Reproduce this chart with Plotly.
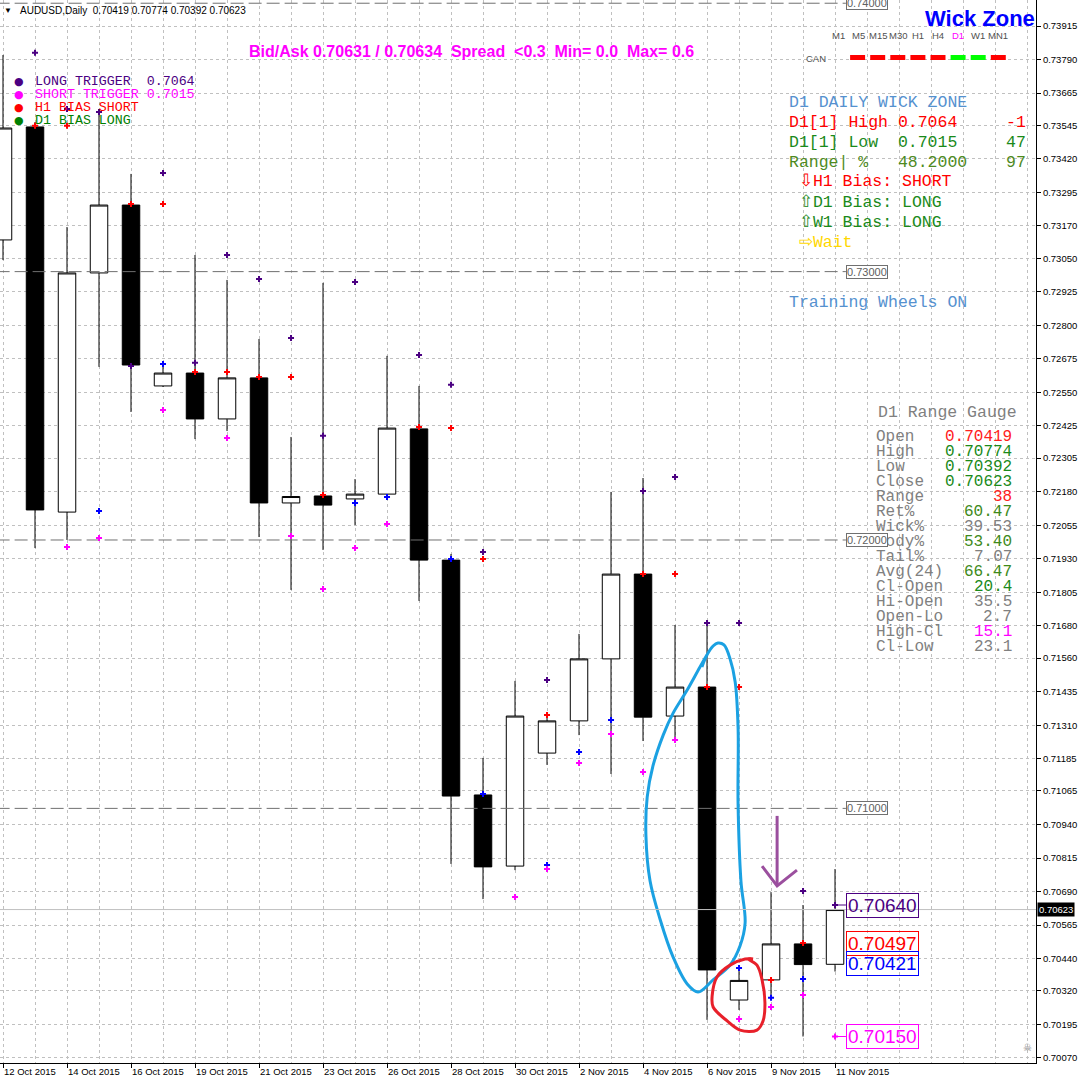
import plotly.graph_objects as go

# ---- data (bar 0 = 12 Oct 2015, Sunday bars included) ----
dates = ["12 Oct 2015", "13 Oct 2015", "14 Oct 2015", "15 Oct 2015", "16 Oct 2015", "18 Oct 2015",
         "19 Oct 2015", "20 Oct 2015", "21 Oct 2015", "22 Oct 2015", "23 Oct 2015", "25 Oct 2015",
         "26 Oct 2015", "27 Oct 2015", "28 Oct 2015", "29 Oct 2015", "30 Oct 2015", "1 Nov 2015",
         "2 Nov 2015", "3 Nov 2015", "4 Nov 2015", "5 Nov 2015", "6 Nov 2015", "8 Nov 2015",
         "9 Nov 2015", "10 Nov 2015", "11 Nov 2015"]
opens = [0.73118, 0.73539, 0.72104, 0.72995, 0.73248, 0.72574, 0.72622, 0.72451, 0.72604, 0.72138,
         0.72164, 0.72153, 0.72171, 0.72414, 0.71925, 0.71050, 0.70785, 0.71206, 0.71326, 0.71557,
         0.71873, 0.71344, 0.71452, 0.70286, 0.70361, 0.70495, 0.70419]
highs = [0.73807, 0.73557, 0.73166, 0.73595, 0.73364, 0.72656, 0.73062, 0.72969, 0.72749, 0.72384,
         0.72958, 0.72227, 0.72686, 0.72574, 0.71948, 0.71188, 0.71475, 0.71348, 0.71650, 0.72179,
         0.72231, 0.71683, 0.71691, 0.70394, 0.70688, 0.70640, 0.70774]
lows = [0.73043, 0.71970, 0.72000, 0.72645, 0.72477, 0.72570, 0.72376, 0.72406, 0.72011, 0.71814,
        0.71963, 0.72056, 0.72160, 0.71773, 0.70793, 0.70662, 0.70770, 0.71162, 0.71273, 0.71128,
        0.71251, 0.71251, 0.70212, 0.70249, 0.70301, 0.70150, 0.70392]
closes = [0.73535, 0.72112, 0.72995, 0.73248, 0.72652, 0.72622, 0.72451, 0.72604, 0.72138, 0.72162,
          0.72130, 0.72171, 0.72417, 0.71925, 0.71046, 0.70782, 0.71344, 0.71326, 0.71557, 0.71873,
          0.71340, 0.71452, 0.70398, 0.70359, 0.70495, 0.70418, 0.70623]

# indicator dots
long_x = [1, 2, 3, 4, 5, 6, 7, 8, 9, 10, 11, 13, 14, 15, 17, 20, 21, 22, 23, 25, 26]
long_y = [0.73815, 0.73606, 0.73595, 0.72648, 0.73367, 0.72660, 0.73062, 0.72972, 0.72753, 0.72388,
          0.72961, 0.72689, 0.72578, 0.71955, 0.71478, 0.72183, 0.72235, 0.71691, 0.71691, 0.70692, 0.70640]
red_x = [1, 2, 4, 5, 6, 7, 8, 9, 10, 13, 14, 15, 17, 20, 21, 22, 23, 24, 25]
red_y = [0.73543, 0.73543, 0.73252, 0.73252, 0.72626, 0.72626, 0.72607, 0.72607, 0.72168, 0.72421,
         0.72417, 0.71929, 0.71348, 0.71873, 0.71873, 0.71452, 0.71452, 0.70361, 0.70498]
blue_x = [3, 5, 11, 12, 14, 15, 17, 18, 19, 23, 24, 25]
blue_y = [0.72108, 0.72656, 0.72138, 0.72160, 0.71929, 0.71054, 0.70789, 0.71210, 0.71329, 0.70405,
          0.70294, 0.70364]
short_x = [2, 3, 5, 7, 9, 10, 11, 12, 16, 17, 18, 19, 20, 21, 23, 24, 25, 26]
short_y = [0.71974, 0.72007, 0.72484, 0.72380, 0.72015, 0.71817, 0.71970, 0.72060, 0.70670, 0.70774,
           0.71169, 0.71277, 0.71136, 0.71255, 0.70215, 0.70260, 0.70305, 0.70150]

# price tags on the right of the last bar
tag_prices = [0.70640, 0.70497, 0.70421, 0.70150]
tag_colors = ["#4B0082", "#FF0000", "#0000FF", "#FF00FF"]
levels = [0.74, 0.73, 0.72, 0.71]
bid = 0.70623

yticks = [0.73915, 0.73790, 0.73665, 0.73545, 0.73420, 0.73295, 0.73170, 0.73050, 0.72925, 0.72800,
          0.72675, 0.72550, 0.72425, 0.72305, 0.72180, 0.72055, 0.71930, 0.71805, 0.71680, 0.71560,
          0.71435, 0.71310, 0.71185, 0.71065, 0.70940, 0.70815, 0.70690, 0.70565, 0.70440, 0.70320,
          0.70195, 0.70070]

# hand drawn marks (bar index, price)
loop_x = [21.84, 22.0, 22.19, 22.34, 22.53, 22.72, 22.88, 22.97, 22.97, 23.06, 23.19, 23.03, 22.72,
          22.19, 21.72, 21.38, 20.94, 20.53, 20.22, 20.09, 20.13, 20.31, 20.63, 20.94, 21.38, 21.78, 22.0]
loop_y = [0.71527, 0.71572, 0.71605, 0.71616, 0.71609, 0.71557, 0.71471, 0.71300, 0.71016, 0.70729,
          0.70573, 0.70487, 0.70416, 0.70361, 0.70316, 0.70346, 0.70446, 0.70588, 0.70729, 0.70901,
          0.71042, 0.71158, 0.71273, 0.71355, 0.71441, 0.71527, 0.71572]
circle_x = [23.44, 23.19, 22.72, 22.31, 22.16, 22.19, 22.63, 23.03, 23.56, 23.75, 23.81, 23.72, 23.56, 23.28, 23.44]
circle_y = [0.70439, 0.70439, 0.70416, 0.70372, 0.70301, 0.70260, 0.70208, 0.70174, 0.70174, 0.70208,
            0.70275, 0.70361, 0.70416, 0.70439, 0.70439]
arrow_x = [24.19, 24.19, None, 23.72, 24.19, 24.81]
arrow_y = [0.70972, 0.70715, None, 0.70785, 0.70711, 0.70770]

# side panels
wick_rows = [("D1 DAILY WICK ZONE", "#5591CF", ""), ("D1[1] High 0.7064", "#FF0000", "-1"),
             ("D1[1] Low  0.7015", "#1A8A1A", "47"), ("Range| %   48.2000", "#4E8A1E", "97"),
             (" ⇩H1 Bias: SHORT", "#FF0000", ""), (" ⇧D1 Bias: LONG", "#1A8A1A", ""),
             (" ⇧W1 Bias: LONG", "#1A8A1A", ""), (" ⇨Wait", "#FFD700", "")]
gauge_labels = ["Open", "High", "Low", "Close", "Range", "Ret%", "Wick%", "Body%", "Tail%", "Avg(24)",
                "Cl-Open", "Hi-Open", "Open-Lo", "High-Cl", "Cl-Low"]
gauge_values = ["0.70419", "0.70774", "0.70392", "0.70623", "38", "60.47", "39.53", "53.40", "7.07",
                "66.47", "20.4", "35.5", "2.7", "15.1", "23.1"]
gauge_colors = ["#FF2020", "#1A8A1A", "#1A8A1A", "#1A8A1A", "#FF2020", "#3E8A1A", "#808080", "#3E8A1A",
                "#808080", "#3E8A1A", "#1A8A1A", "#808080", "#808080", "#FF00FF", "#808080"]
tf_labels = ["M1", "M5", "M15", "M30", "H1", "H4", "D1", "W1", "MN1"]
can_colors = ["#FFFF00", "#FF0000", "#FF0000", "#FF0000", "#FF0000", "#FF0000", "#00FF00", "#00FF00", "#FF0000"]
legend_items = [("LONG TRIGGER  0.7064", "#4B0082"), ("SHORT TRIGGER 0.7015", "#FF00FF"),
                ("H1 BIAS SHORT", "#FF0000"), ("D1 BIAS LONG", "#008000")]

W, H = 1036, 1063  # plot area in pixels


def px(x):
    return x / W


def py(y):
    return 1 - y / H


NB = "\u00a0"
MONO = "Liberation Mono"
SANS = "Liberation Sans"

fig = go.Figure()
idx = list(range(len(dates)))

fig.add_trace(go.Candlestick(
    x=idx, open=opens, high=highs, low=lows, close=closes,
    increasing=dict(line=dict(color="black", width=1), fillcolor="white"),
    decreasing=dict(line=dict(color="black", width=1), fillcolor="black"),
    whiskerwidth=0, hoverinfo="skip", showlegend=False))

# level lines (end where their label box starts)
for lv in levels:
    fig.add_trace(go.Scatter(x=[-0.2, 26.34], y=[lv, lv], mode="lines",
                             line=dict(color="#707070", width=1, dash="13px,5px"),
                             hoverinfo="skip", showlegend=False))

fig.add_hline(y=bid, line=dict(color="#C0C0C0", width=1))

for xs, ys, col in [(long_x, long_y, "#4B0082"), (red_x, red_y, "#FF0000"),
                    (blue_x, blue_y, "#0000FF"), (short_x, short_y, "#FF00FF")]:
    fig.add_trace(go.Scatter(x=xs, y=ys, mode="markers",
                             marker=dict(symbol="cross", size=5, color=col, line=dict(width=0)),
                             hoverinfo="skip", showlegend=False))

# connector lines to the price tags
for p, c in [(tag_prices[0], tag_colors[0]), (tag_prices[3], tag_colors[3])]:
    fig.add_trace(go.Scatter(x=[26, 26.34], y=[p, p], mode="lines", line=dict(color=c, width=1),
                             hoverinfo="skip", showlegend=False))

# hand drawn marks
fig.add_trace(go.Scatter(x=loop_x, y=loop_y, mode="lines", line=dict(color="#1BA1E2", width=3, shape="spline"),
                         hoverinfo="skip", showlegend=False))
fig.add_trace(go.Scatter(x=circle_x, y=circle_y, mode="lines", line=dict(color="#E8202A", width=3, shape="spline"),
                         hoverinfo="skip", showlegend=False))
fig.add_trace(go.Scatter(x=arrow_x, y=arrow_y, mode="lines", line=dict(color="#9B4F9E", width=3),
                         hoverinfo="skip", showlegend=False, connectgaps=False))

ann = []

# header
ann.append(dict(x=px(8), y=py(10), text="▼", font=dict(size=8, color="black", family=SANS)))
ann.append(dict(x=px(18), y=py(10), xanchor="left",
                text="AUDUSD,Daily" + NB * 2 + "0.70419 0.70774 0.70392 0.70623",
                font=dict(size=10, color="black", family=SANS)))
ann.append(dict(x=px(471), y=py(52),
                text="<b>Bid/Ask 0.70631 / 0.70634" + NB * 2 + "Spread" + NB * 2 + "<0.3" + NB * 2
                     + "Min= 0.0" + NB * 2 + "Max= 0.6</b>",
                font=dict(size=16, color="#FF00FF", family=SANS)))
ann.append(dict(x=px(1037), y=py(19), xanchor="right", text="<b>Wick Zone</b>",
                font=dict(size=22, color="#0000FF", family=SANS)))

# legend box (top left)
for i, (txt, col) in enumerate(legend_items):
    yy = 81 + 13 * i
    ann.append(dict(x=px(19), y=py(yy), text="●", font=dict(size=11, color=col, family="DejaVu Sans")))
    ann.append(dict(x=px(33), y=py(yy), xanchor="left", text=txt.replace(" ", NB),
                    font=dict(size=13.3, color=col, family=MONO)))

# timeframe status strip
for i, (lab, col) in enumerate(zip(tf_labels, can_colors)):
    cx = 838 + 20 * i
    ann.append(dict(x=px(cx), y=py(36), text=lab,
                    font=dict(size=9.5, color="#FF00FF" if lab == "D1" else "#505050", family=SANS)))
ann.append(dict(x=px(828), y=py(58), xanchor="right", text="CAN",
                font=dict(size=9.5, color="#505050", family=SANS)))

# wick zone panel
for i, (txt, col, right) in enumerate(wick_rows):
    yy = 102 + 20 * i
    ann.append(dict(x=px(787), y=py(yy), xanchor="left", text=txt.replace(" ", NB),
                    font=dict(size=16.5, color=col, family=MONO)))
    if right:
        ann.append(dict(x=px(1028), y=py(yy), xanchor="right", text=right,
                        font=dict(size=16.5, color=col, family=MONO)))
ann.append(dict(x=px(787), y=py(302), xanchor="left", text="Training Wheels ON".replace(" ", NB),
                font=dict(size=16.5, color="#5591CF", family=MONO)))

# range gauge panel
ann.append(dict(x=px(876), y=py(412), xanchor="left", text="D1 Range Gauge".replace(" ", NB),
                font=dict(size=16.5, color="#808080", family=MONO)))
for i, (lab, val, col) in enumerate(zip(gauge_labels, gauge_values, gauge_colors)):
    yy = 437 + 15 * i
    ann.append(dict(x=px(874), y=py(yy), xanchor="left", text=lab,
                    font=dict(size=16, color="#808080", family=MONO)))
    ann.append(dict(x=px(1014), y=py(yy), xanchor="right", text=val,
                    font=dict(size=16, color=col, family=MONO)))

# level labels
for lv in levels:
    ann.append(dict(x=26.34, y=lv, xref="x", yref="y", xanchor="left", text=f"{lv:.5f}",
                    font=dict(size=11, color="#606060", family=SANS), bgcolor="white",
                    bordercolor="#707070", borderwidth=1, borderpad=0))

# price tags
for p, c in zip(tag_prices, tag_colors):
    ann.append(dict(x=26.34, y=p, xref="x", yref="y", xanchor="left", text=f"{p:.5f}",
                    font=dict(size=19, color=c, family=SANS), bgcolor="rgba(255,255,255,0)",
                    bordercolor=c, borderwidth=1, borderpad=1))

# bid label on the price axis
ann.append(dict(x=px(1037), y=bid, yref="y", xanchor="left", text=f"{bid:.5f}",
                font=dict(size=9.5, color="white", family=SANS), bgcolor="black", borderpad=1))
ann.append(dict(x=px(1027), y=py(1047), text="☠", font=dict(size=10, color="#808080")))

for a in ann:
    a.setdefault("xref", "paper")
    a.setdefault("yref", "paper")
    a.setdefault("xanchor", "center")
    a.setdefault("yanchor", "middle")
    a.setdefault("showarrow", False)

shapes = []
for i, col in enumerate(can_colors):
    x0 = 830 + 20.1 * i
    shapes.append(dict(type="rect", xref="paper", yref="paper", x0=px(x0), x1=px(x0 + 15),
                       y0=py(60), y1=py(55), fillcolor=col, line=dict(width=0)))

grid = dict(gridcolor="#C0C0C0", griddash="3px,3px", gridwidth=1)

fig.update_layout(
    width=1080, height=1080,
    margin=dict(l=0, r=44, t=0, b=17),
    paper_bgcolor="white", plot_bgcolor="white",
    boxgap=0.22,
    showlegend=False,
    annotations=ann,
    shapes=shapes,
    xaxis=dict(
        range=[-0.094, 32.28], rangeslider=dict(visible=False),
        tickmode="array", tickvals=idx[::2], ticktext=dates[::2],
        ticks="outside", ticklen=4, tickcolor="black",
        ticklabelposition="outside right",
        tickfont=dict(size=9.5, color="black", family=SANS),
        showline=True, linecolor="black", linewidth=1, zeroline=False,
        showgrid=True, **grid,
        minor=dict(tickmode="linear", tick0=0, dtick=1, showgrid=True, ticks="", **grid),
    ),
    yaxis=dict(
        side="right", range=[0.700513, 0.740120],
        tickmode="array", tickvals=yticks, ticktext=[f"{v:.5f}" for v in yticks],
        ticks="outside", ticklen=4, tickcolor="black",
        tickfont=dict(size=9.5, color="black", family=SANS),
        showline=True, linecolor="black", linewidth=1, zeroline=False,
        showgrid=True, **grid,
    ),
)

fig.write_html("out.html", config={"displayModeBar": False},
               post_script="document.body.style.margin='0';document.body.style.padding='0';")
